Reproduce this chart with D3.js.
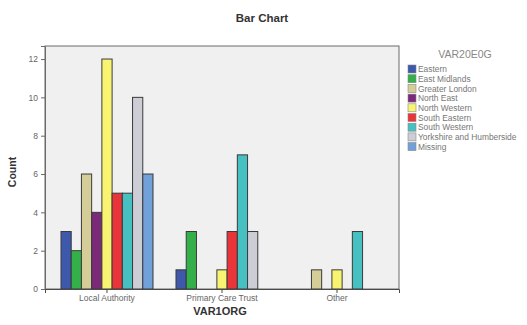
<!DOCTYPE html>
<html>
<head>
<meta charset="utf-8">
<script src="https://cdn.jsdelivr.net/npm/d3@7"></script>
<style>
  html, body { margin: 0; padding: 0; background: #fff; }
  svg { display: block; font-family: "Liberation Sans", Arial, sans-serif; }
</style>
</head>
<body>
<svg id="chart" width="527" height="325"></svg>
<script>
const categories = ["Local Authority", "Primary Care Trust", "Other"];
const seriesNames = ["Eastern", "East Midlands", "Greater London", "North East", "North Western", "South Eastern", "South Western", "Yorkshire and Humberside", "Missing"];
const seriesColors = ["#3E58AC", "#33B04A", "#D4CD98", "#7A2A78", "#F8F472", "#E9353A", "#47C0C2", "#CDCDD6", "#72A1DA"];
const eastern = [3, 1, 0];
const eastMidlands = [2, 3, 0];
const greaterLondon = [6, 0, 1];
const northEast = [4, 0, 0];
const northWestern = [12, 1, 1];
const southEastern = [5, 3, 0];
const southWestern = [5, 7, 3];
const yorkshire = [10, 3, 0];
const missing = [6, 0, 0];
const yTicks = [0, 2, 4, 6, 8, 10, 12];

const seriesValues = [eastern, eastMidlands, greaterLondon, northEast, northWestern, southEastern, southWestern, yorkshire, missing];

const svg = d3.select("#chart");
const plot = { left: 45, right: 399, top: 46, bottom: 289 };

const x0 = d3.scaleBand().domain(categories).range([plot.left, plot.right]).paddingInner(0.2).paddingOuter(0.139);
const x1 = d3.scaleBand().domain(seriesNames).range([0, x0.bandwidth()]);
const y = d3.scaleLinear().domain([0, 12.68]).range([plot.bottom, plot.top]);

// plot background
svg.append("rect")
  .attr("x", plot.left).attr("y", plot.top)
  .attr("width", plot.right - plot.left).attr("height", plot.bottom - plot.top)
  .attr("fill", "#F0F0F0").attr("stroke", "#6a6a6a").attr("stroke-width", 1);

// bars
const rows = [];
seriesNames.forEach((s, si) => {
  categories.forEach((c, ci) => {
    const v = seriesValues[si][ci];
    if (v > 0) rows.push({ s, c, v, color: seriesColors[si] });
  });
});
svg.append("g").selectAll("rect").data(rows).join("rect")
  .attr("x", d => x0(d.c) + x1(d.s))
  .attr("y", d => y(d.v))
  .attr("width", x1.bandwidth())
  .attr("height", d => y(0) - y(d.v))
  .attr("fill", d => d.color)
  .attr("stroke", "#3a3a3a").attr("stroke-width", 1);

// y axis
const yAxis = svg.append("g").attr("transform", `translate(${plot.left},0)`)
  .call(d3.axisLeft(y).tickValues(yTicks).tickSize(4).tickPadding(3).tickFormat(d3.format("d")));
yAxis.select(".domain").attr("stroke", "#6a6a6a");
yAxis.selectAll(".tick line").attr("stroke", "#6a6a6a");
yAxis.selectAll(".tick text").attr("fill", "#666").attr("font-size", 8.5);

// x axis
const xAxis = svg.append("g").attr("transform", `translate(0,${plot.bottom})`)
  .call(d3.axisBottom(x0).tickSize(4).tickPadding(1.5));
xAxis.select(".domain").attr("stroke", "#4a4a4a");
xAxis.selectAll(".tick line").attr("stroke", "#4a4a4a");
xAxis.selectAll(".tick text").attr("fill", "#666").attr("font-size", 8.5);

// title
svg.append("text").attr("x", 262).attr("y", 22).attr("text-anchor", "middle")
  .attr("font-weight", "bold").attr("font-size", 11.5).attr("fill", "#333").text("Bar Chart");

// axis titles
svg.append("text").attr("x", 220).attr("y", 315).attr("text-anchor", "middle")
  .attr("font-weight", "bold").attr("font-size", 11).attr("fill", "#333").text("VAR1ORG");
svg.append("text").attr("transform", "translate(16,172) rotate(-90)").attr("text-anchor", "middle")
  .attr("font-weight", "bold").attr("font-size", 10.5).attr("fill", "#333").text("Count");

// legend
const lg = svg.append("g");
lg.append("text").attr("x", 465).attr("y", 58).attr("text-anchor", "middle")
  .attr("font-size", 10.5).attr("fill", "#888").text("VAR20E0G");
const item = lg.selectAll("g.item").data(seriesNames).join("g").attr("class", "item")
  .attr("transform", (d, i) => `translate(408,${65 + i * 9.7})`);
item.append("rect").attr("width", 8).attr("height", 8)
  .attr("fill", (d, i) => seriesColors[i]).attr("stroke", "#888").attr("stroke-width", 0.6);
item.append("text").attr("x", 10).attr("y", 7.2).attr("font-size", 8.4)
  .attr("fill", "#777").text(d => d);
</script>
</body>
</html>
